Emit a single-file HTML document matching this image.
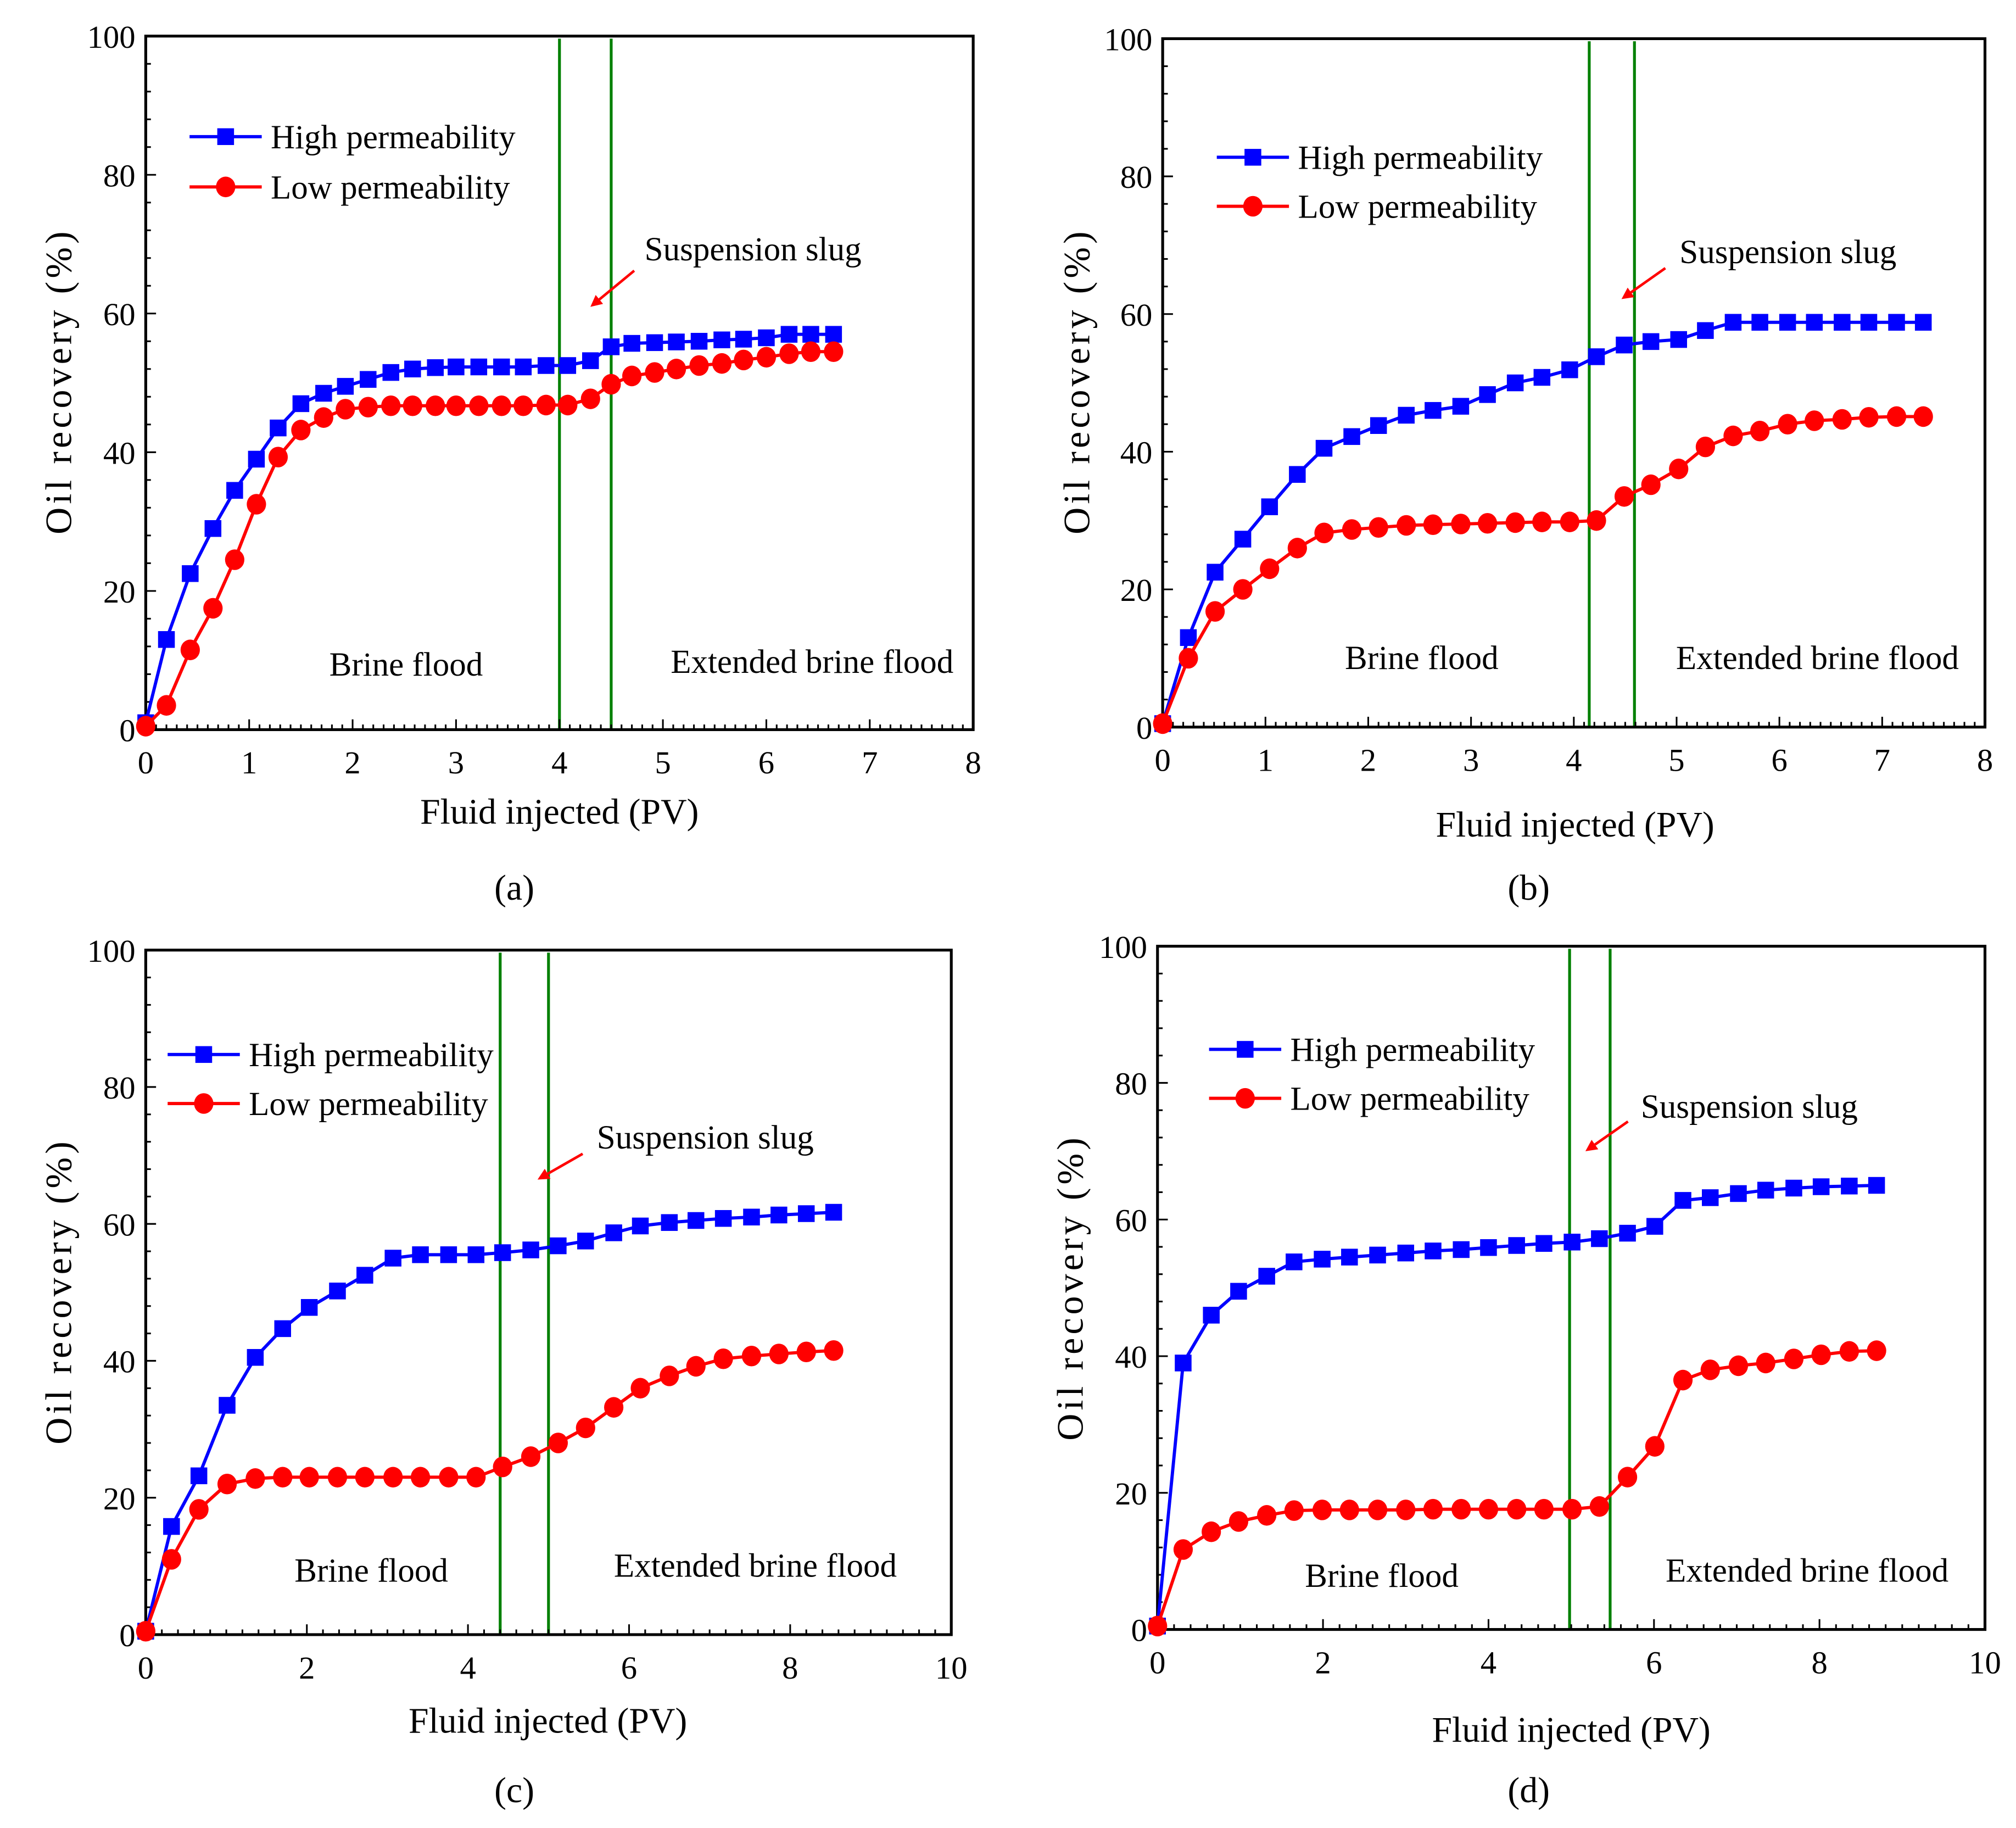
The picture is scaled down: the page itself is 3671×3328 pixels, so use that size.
<!DOCTYPE html>
<html><head><meta charset="utf-8"><style>
html,body{margin:0;padding:0;background:#fff}
svg{display:block}
text{font-family:"Liberation Serif",serif;fill:#000}
</style></head><body>
<svg id="fig" width="3671" height="3328" viewBox="0 0 1564 1418" xmlns="http://www.w3.org/2000/svg">
<rect width="1564" height="1418" fill="#fff"/>
</svg>
<script>
// Panel (a)
const aX = [0,0.2,0.43,0.65,0.86,1.07,1.28,1.5,1.72,1.93,2.15,2.37,2.58,2.8,3.0,3.22,3.44,3.65,3.87,4.08,4.3,4.5,4.7,4.92,5.13,5.35,5.57,5.78,6.0,6.22,6.43,6.65];
const aHigh = [1,13,22.5,29,34.5,39,43.5,47,48.5,49.5,50.5,51.5,52,52.2,52.3,52.3,52.3,52.3,52.5,52.5,53.2,55.2,55.7,55.8,55.9,56,56.2,56.3,56.5,57,57,57];
const aLow = [0.5,3.5,11.5,17.5,24.5,32.5,39.3,43.2,45,46.2,46.5,46.7,46.7,46.7,46.7,46.7,46.7,46.7,46.8,46.8,47.7,49.8,51,51.5,52,52.5,52.8,53.3,53.7,54.2,54.5,54.5];
const aSlug = [4.0,4.5];
// Panel (b)
const bX = [0,0.25,0.51,0.78,1.04,1.31,1.57,1.84,2.1,2.37,2.63,2.9,3.16,3.43,3.69,3.96,4.22,4.49,4.75,5.02,5.28,5.55,5.81,6.08,6.34,6.61,6.87,7.14,7.4];
const bHigh = [0.5,13,22.5,27.3,32,36.7,40.5,42.2,43.8,45.3,46,46.6,48.3,50,50.8,51.9,53.8,55.5,56,56.3,57.6,58.8,58.8,58.8,58.8,58.8,58.8,58.8,58.8];
const bLow = [0.5,10,16.8,20,23,26,28.2,28.7,29,29.3,29.4,29.5,29.6,29.7,29.8,29.8,30,33.5,35.2,37.5,40.7,42.3,43,44,44.5,44.7,45,45.1,45.1];
const bSlug = [4.15,4.59];
// Panel (c)
const cX = [0,0.32,0.66,1.01,1.36,1.7,2.03,2.38,2.72,3.07,3.41,3.76,4.1,4.43,4.78,5.12,5.46,5.81,6.14,6.5,6.83,7.17,7.52,7.86,8.2,8.54];
const cHigh = [0.5,15.8,23.2,33.5,40.5,44.7,47.8,50.2,52.5,55,55.5,55.5,55.5,55.8,56.2,56.8,57.5,58.7,59.7,60.2,60.5,60.8,61,61.3,61.5,61.7];
const cLow = [0.5,11,18.3,22,22.8,23,23,23,23,23,23,23,23,24.5,26,28,30.2,33.2,36,37.8,39.2,40.3,40.7,41,41.3,41.5];
const cSlug = [4.4,5.0];
// Panel (d)
const dX = [0,0.31,0.65,0.98,1.32,1.65,1.99,2.32,2.66,3.0,3.33,3.67,4.0,4.34,4.67,5.01,5.34,5.68,6.01,6.35,6.68,7.02,7.35,7.69,8.02,8.36,8.69];
const dHigh = [0.5,39,46,49.5,51.7,53.8,54.2,54.5,54.8,55.1,55.4,55.6,55.9,56.2,56.5,56.7,57.2,58,59,62.8,63.2,63.8,64.3,64.6,64.8,64.9,65];
const dLow = [0.5,11.7,14.3,15.8,16.7,17.4,17.5,17.5,17.5,17.5,17.6,17.6,17.6,17.6,17.6,17.6,18,22.3,26.8,36.5,38,38.6,39,39.6,40.2,40.7,40.8];
const dSlug = [4.98,5.47];

const xTicks8 = [0,1,2,3,4,5,6,7,8];
const xTicks10 = [0,2,4,6,8,10];
const yTicks = [0,20,40,60,80,100];

const NS = "http://www.w3.org/2000/svg";
const svg = document.getElementById('fig');
function mk(tag, attrs, parent){
  const e = document.createElementNS(NS, tag);
  for (const k in attrs) e.setAttribute(k, attrs[k]);
  (parent||svg).appendChild(e);
  return e;
}
function txt(s, attrs, parent){ const t = mk('text', attrs, parent); t.textContent = s; return t; }

const panels = [
 {id:'a', L:113,R:755,T:28,B:566, xmax:8, xt:xTicks8, minor:0.1, X:aX,H:aHigh,Lo:aLow,S:aSlug,
  leg:[147,106,145], brine:[315,515], ext:[630,513], slug:[500,193,492,210,458,238], xl:[434,630], yl:[45,297], sub:[399,688]},
 {id:'b', L:902,R:1540,T:30,B:564, xmax:8, xt:xTicks8, minor:0.1, X:bX,H:bHigh,Lo:bLow,S:bSlug,
  leg:[944,122,160], brine:[1103,510], ext:[1410,510], slug:[1303,195,1292,208,1258,232], xl:[1222,640], yl:[835,297], sub:[1186,688]},
 {id:'c', L:113,R:738,T:737,B:1268, xmax:10, xt:xTicks10, minor:0.2, X:cX,H:cHigh,Lo:cLow,S:cSlug,
  leg:[130,818,856], brine:[288,1218], ext:[586,1214], slug:[463,882,452,895,417,915], xl:[425,1335], yl:[45,1003], sub:[399,1388]},
 {id:'d', L:898,R:1540,T:734,B:1264, xmax:10, xt:xTicks10, minor:0.2, X:dX,H:dHigh,Lo:dLow,S:dSlug,
  leg:[938,814,852], brine:[1072,1222], ext:[1402,1218], slug:[1273,858,1263,870,1230,893], xl:[1219,1342], yl:[830,1000], sub:[1186,1388]}
];

panels.forEach(p=>{
  const g = mk('g',{});
  
  
  const sx = v => p.L + v/p.xmax*(p.R-p.L);
  const sy = v => p.B - v/100*(p.B-p.T);
  p.S.forEach((v,i)=>{
    const l = mk('line',{x1:sx(v),x2:sx(v),y1:p.T+2,y2:p.B,stroke:'#008000','stroke-width':2.2},g);
    
    
  });
  const nMinor = Math.round(p.xmax/p.minor);
  for(let i=0;i<=nMinor;i++){
    const v=i*p.minor; const major = p.xt.some(t=>Math.abs(t-v)<1e-6);
    mk('line',{x1:sx(v),x2:sx(v),y1:p.B,y2:p.B-(major?8:4),stroke:'#000','stroke-width':1.3},g);
  }
  for(let v=0;v<=100;v+=4){
    const major = v%20===0;
    mk('line',{x1:p.L,x2:p.L+(major?8:4),y1:sy(v),y2:sy(v),stroke:'#000','stroke-width':1.3},g);
  }
  p.xt.forEach(v=>{
    const t = txt(String(v),{x:sx(v),y:p.B+34,'font-size':25,'text-anchor':'middle'},g);
    
    
  });
  yTicks.forEach(v=>{
    const t = txt(String(v),{x:p.L-8,y:sy(v)+9,'font-size':25,'text-anchor':'end'},g);
    
    
  });
  const fr = mk('rect',{x:p.L,y:p.T,width:p.R-p.L,height:p.B-p.T,fill:'none',stroke:'#000','stroke-width':2.2},g);
  
  
  const drawSeries = (vals, color, shape, name)=>{
    const sg = mk('g',{},g);
    
    
    const pts = p.X.map((x,i)=>sx(x)+','+sy(vals[i])).join(' ');
    mk('polyline',{points:pts,fill:'none',stroke:color,'stroke-width':2.5},sg);
    p.X.forEach((x,i)=>{
      let m;
      if(shape==='sq') m = mk('rect',{x:sx(x)-6.5,y:sy(vals[i])-6.5,width:13,height:13,fill:color},sg);
      else m = mk('ellipse',{cx:sx(x),cy:sy(vals[i]),rx:7.5,ry:8,fill:color},sg);
      
      
    });
  };
  drawSeries(p.H,'#0000ff','sq','high-permeability-series');
  drawSeries(p.Lo,'#ff0000','ci','low-permeability-series');
  const [lx,ly1,ly2] = p.leg;
  const lg = mk('g',{},g);
  
  
  mk('line',{x1:lx,x2:lx+56,y1:ly1,y2:ly1,stroke:'#0000ff','stroke-width':2.5},lg);
  mk('rect',{x:lx+21.5,y:ly1-6.5,width:13,height:13,fill:'#0000ff'},lg);
  txt('High permeability',{x:lx+63,y:ly1+9,'font-size':26},lg);
  mk('line',{x1:lx,x2:lx+56,y1:ly2,y2:ly2,stroke:'#ff0000','stroke-width':2.5},lg);
  mk('ellipse',{cx:lx+28,cy:ly2,rx:7.5,ry:8,fill:'#ff0000'},lg);
  txt('Low permeability',{x:lx+63,y:ly2+9,'font-size':26},lg);
  const b = txt('Brine flood',{x:p.brine[0],y:p.brine[1]+9,'font-size':26,'text-anchor':'middle'},g);
  
  
  const e = txt('Extended brine flood',{x:p.ext[0],y:p.ext[1]+9,'font-size':26,'text-anchor':'middle'},g);
  
  
  const s = p.slug;
  const st = txt('Suspension slug',{x:s[0],y:s[1]+9,'font-size':26},g);
  
  
  const ar = mk('g',{},g);
  
  
  const ang = Math.atan2(s[5]-s[3], s[4]-s[2]);
  const hx = s[4]-9*Math.cos(ang), hy = s[5]-9*Math.sin(ang);
  mk('line',{x1:s[2],y1:s[3],x2:hx,y2:hy,stroke:'#ff0000','stroke-width':2},ar);
  const px = -Math.sin(ang)*4.5, py = Math.cos(ang)*4.5;
  mk('polygon',{points:`${s[4]},${s[5]} ${hx+px},${hy+py} ${hx-px},${hy-py}`,fill:'#ff0000'},ar);
  const xl = txt('Fluid injected  (PV)',{x:p.xl[0],y:p.xl[1]+9,'font-size':28,'text-anchor':'middle'},g);
  
  
  const yl = txt('Oil recovery  (%)',{x:0,y:0,'font-size':29,'text-anchor':'middle',textLength:235,lengthAdjust:'spacing',transform:`translate(${p.yl[0]+10},${p.yl[1]}) rotate(-90)`},g);
  
  
  const sb = txt('('+p.id+')',{x:p.sub[0],y:p.sub[1]+10,'font-size':28,'text-anchor':'middle'},g);
  
  
});
</script>
</body></html>
